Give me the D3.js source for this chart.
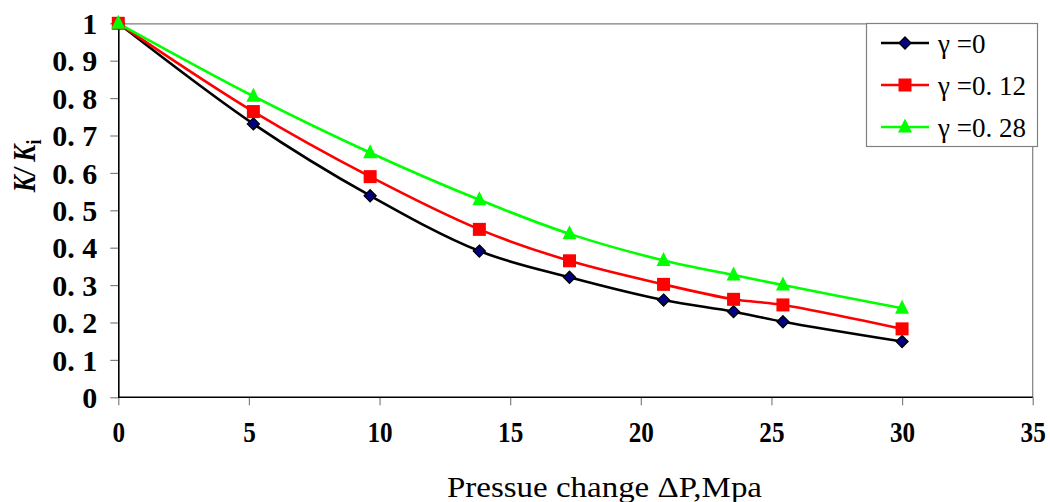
<!DOCTYPE html>
<html>
<head>
<meta charset="utf-8">
<script src="https://cdn.jsdelivr.net/npm/d3@7"></script>
<style>
  body { margin: 0; background: #fff; }
  svg { display: block; }
</style>
</head>
<body>
<div id="chart"></div>
<script>
// ---- data ----
var pressure = [0, 5.17, 9.64, 13.82, 17.27, 20.87, 23.55, 25.44, 30.0];
var kGamma0 = [1, 0.731, 0.539, 0.391, 0.321, 0.260, 0.229, 0.202, 0.149];
var kGamma012 = [1, 0.764, 0.590, 0.449, 0.365, 0.302, 0.262, 0.247, 0.183];
var kGamma028 = [1, 0.805, 0.654, 0.528, 0.437, 0.366, 0.327, 0.300, 0.238];
var seriesNames = ["γ =0", "γ =0. 12", "γ =0. 28"];
var xTicks = [0, 5, 10, 15, 20, 25, 30, 35];
var yTicks = [0, 0.1, 0.2, 0.3, 0.4, 0.5, 0.6, 0.7, 0.8, 0.9, 1];

var width = 1050, height = 502;
var margin = {left: 118.3, right: 1050 - 1032.7, top: 23.3, bottom: 502 - 397.3};
var plotW = width - margin.left - margin.right;
var plotH = height - margin.top - margin.bottom;

var series = [
  {name: seriesNames[0], values: kGamma0, color: "#000000", marker: "diamond"},
  {name: seriesNames[1], values: kGamma012, color: "#ff0000", marker: "square"},
  {name: seriesNames[2], values: kGamma028, color: "#00ff00", marker: "triangle"}
];

var svg = d3.select("#chart").append("svg")
  .attr("width", width)
  .attr("height", height);

var x = d3.scaleLinear().domain([0, 35]).range([0, plotW]);
var y = d3.scaleLinear().domain([0, 1]).range([plotH, 0]);

var g = svg.append("g")
  .attr("transform", "translate(" + margin.left + "," + margin.top + ")");

// top / right border (gray)
g.append("path")
  .attr("d", "M0,0.5H" + plotW + "V" + plotH)
  .attr("fill", "none")
  .attr("stroke", "#808080")
  .attr("stroke-width", 1.2);

var serif = "'Liberation Serif', 'DejaVu Serif', serif";

// y axis
var yAxis = g.append("g")
  .call(d3.axisLeft(y).tickValues(yTicks).tickSize(8).tickPadding(13)
    .tickFormat(function(d) {
      if (d === 0 || d === 1) return String(d);
      return d.toFixed(1).replace(".", ". ");
    }));
yAxis.select(".domain").remove();
yAxis.selectAll(".tick line").attr("stroke", "#808080").attr("stroke-width", 1.2);
yAxis.selectAll(".tick text")
  .attr("font-family", serif)
  .attr("font-weight", "bold")
  .attr("font-size", 30)
  .attr("fill", "#000")
  .attr("dy", "0.34em");

// x axis
var xAxis = g.append("g")
  .attr("transform", "translate(0," + plotH + ")")
  .call(d3.axisBottom(x).tickValues(xTicks).tickSize(8).tickFormat(d3.format("d")));
xAxis.select(".domain").remove();
xAxis.selectAll(".tick line").attr("stroke", "#808080").attr("stroke-width", 1.2);
xAxis.selectAll(".tick text")
  .attr("font-family", serif)
  .attr("font-weight", "bold")
  .attr("font-size", 30)
  .attr("fill", "#000")
  .attr("y", 45)
  .attr("dy", 0)
  .attr("transform", "scale(0.84,1)");

// black left and bottom axis lines
g.append("path")
  .attr("d", "M0.5,0V" + plotH + "H" + plotW)
  .attr("fill", "none")
  .attr("stroke", "#000")
  .attr("stroke-width", 1.6);

// smoothed lines
var line = d3.line()
  .x(function(d, i) { return x(pressure[i]); })
  .y(function(d) { return y(d); })
  .curve(d3.curveCatmullRom.alpha(0.5));

g.selectAll(".series")
  .data(series)
  .enter().append("path")
  .attr("class", "series")
  .attr("d", function(s) { return line(s.values); })
  .attr("fill", "none")
  .attr("stroke", function(s) { return s.color; })
  .attr("stroke-width", 2.6);

// marker drawing
function markerPath(type) {
  if (type === "diamond") return "M0,-6L6,0L0,6L-6,0Z";
  if (type === "square") return "M-6.5,-6.5H6.5V6.5H-6.5Z";
  return "M0,-8.5L7,5.5H-7Z";
}
function styleMarker(sel, s) {
  sel.attr("d", markerPath(s.marker));
  if (s.marker === "diamond") {
    sel.attr("fill", "#000080").attr("stroke", "#000").attr("stroke-width", 1.3);
  } else {
    sel.attr("fill", s.color).attr("stroke", "none");
  }
}

series.forEach(function(s) {
  g.selectAll(null)
    .data(s.values)
    .enter().append("path")
    .attr("transform", function(d, i) { return "translate(" + x(pressure[i]) + "," + y(d) + ")"; })
    .each(function() { styleMarker(d3.select(this), s); });
});

// legend
var legend = svg.append("g").attr("transform", "translate(866,23)");
legend.append("rect")
  .attr("x", 0.5).attr("y", 0.5)
  .attr("width", 171).attr("height", 123)
  .attr("fill", "#fff")
  .attr("stroke", "#808080")
  .attr("stroke-width", 1.2);
series.forEach(function(s, i) {
  var row = legend.append("g").attr("transform", "translate(0," + (20 + i * 42) + ")");
  row.append("line")
    .attr("x1", 15).attr("x2", 63)
    .attr("stroke", s.color)
    .attr("stroke-width", 2.6);
  var m = row.append("path").attr("transform", "translate(39,0)");
  styleMarker(m, s);
  row.append("text")
    .attr("x", 72)
    .attr("y", 10)
    .attr("font-family", serif)
    .attr("font-size", 27)
    .attr("fill", "#000")
    .text(s.name);
});

// axis titles
svg.append("text")
  .attr("x", 604.5)
  .attr("y", 497)
  .attr("text-anchor", "middle")
  .attr("font-family", serif)
  .attr("font-size", 30)
  .attr("textLength", 315)
  .attr("lengthAdjust", "spacingAndGlyphs")
  .attr("fill", "#000")
  .text("Pressue change  ΔP,Mpa");

var yTitle = svg.append("text")
  .attr("transform", "translate(35,166) rotate(-90) scale(0.8,1)")
  .attr("text-anchor", "middle")
  .attr("font-family", serif)
  .attr("font-size", 32)
  .attr("font-weight", "bold")
  .attr("font-style", "italic")
  .attr("fill", "#000");
yTitle.append("tspan").text("K/ K");
yTitle.append("tspan").attr("font-size", 22).attr("font-style", "normal").attr("dy", 6).text("i");
</script>
</body>
</html>
